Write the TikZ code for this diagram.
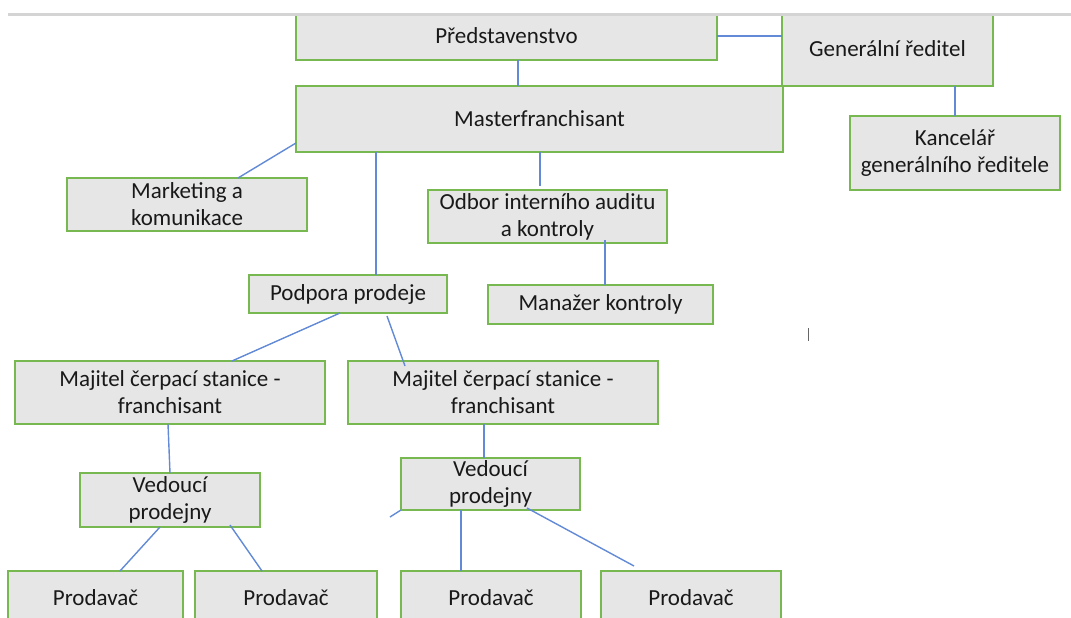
\documentclass[tikz,border=0pt]{standalone}
\usepackage{fontspec}
\setmainfont{Carlito}
\definecolor{boxfill}{RGB}{231,230,230}
\definecolor{boxline}{RGB}{120,184,80}
\definecolor{linkblue}{RGB}{98,138,214}
\definecolor{topgray}{RGB}{212,212,212}
\tikzset{
  ob/.style={rectangle, anchor=north west, inner sep=0pt, outer sep=0pt, align=center, draw=boxline, line width=1.8pt, fill=boxfill, text=black!90, font=\fontsize{23}{27}\selectfont},
  ln/.style={draw=linkblue, line width=1.4pt}
}

\begin{document}
\begin{tikzpicture}[x=1pt,y=-1pt]
	\useasboundingbox (0,0) rectangle (1071,618);
	\begin{scope}
	\clip (0,15.5) rectangle (1071,618);
	\node[ob, minimum width=421pt, minimum height=48pt] (pred) at (296,12) {Představenstvo};
	\node[ob, minimum width=211pt, minimum height=74pt] (gen) at (782,12) {Generální ředitel};
	\node[ob, minimum width=487pt, minimum height=66pt] (master) at (296,86) {Masterfranchisant};
	\node[ob, minimum width=210pt, minimum height=74pt] (kanc) at (850,116) {Kancelář\\generálního ředitele};
	\node[ob, minimum width=240pt, minimum height=53pt] (mark) at (67,178) {Marketing a\\komunikace};
	\node[ob, minimum width=239pt, minimum height=53pt] (odbor) at (428,190) {Odbor interního auditu\\a kontroly};
	\node[ob, minimum width=198pt, minimum height=38pt] (podpora) at (249,275) {Podpora prodeje};
	\node[ob, minimum width=225pt, minimum height=39pt] (manazer) at (488,285) {Manažer kontroly};
	\node[ob, minimum width=310pt, minimum height=63pt] (maj1) at (15,361) {Majitel čerpací stanice -\\franchisant};
	\node[ob, minimum width=310pt, minimum height=63pt] (maj2) at (348,361) {Majitel čerpací stanice -\\franchisant};
	\node[ob, minimum width=180pt, minimum height=54pt] (ved1) at (80,473) {Vedoucí\\prodejny};
	\node[ob, minimum width=179pt, minimum height=52pt] (ved2) at (401,458) {Vedoucí\\prodejny};
	\node[ob, minimum width=175pt, minimum height=54pt] (prod1) at (8,571) {Prodavač};
	\node[ob, minimum width=182pt, minimum height=54pt] (prod2) at (195,571) {Prodavač};
	\node[ob, minimum width=180pt, minimum height=54pt] (prod3) at (401,571) {Prodavač};
	\node[ob, minimum width=180pt, minimum height=54pt] (prod4) at (601,571) {Prodavač};
	\coordinate (stub) at (390,517);
	\coordinate (caret) at (808,328);
	%
	\draw[ln] (pred.east) -- (pred.east -| gen.west);
	\draw[ln] ([xshift=11.5pt]pred.south) -- ([xshift=11.5pt]pred.south |- master.north);
	\draw[ln] (kanc.north |- gen.south) -- (kanc.north);
	\draw[ln] ([yshift=-24pt]master.west) -- ([xshift=51pt]mark.north);
	\draw[ln] ([xshift=28pt]podpora.north |- master.south) -- ([xshift=28pt]podpora.north);
	\draw[ln] ([xshift=0.5pt]master.south) -- ([xshift=0.5pt,yshift=4pt]master.south |- odbor.north);
	\draw[ln] ([xshift=4.5pt,yshift=3pt]manazer.north |- odbor.south) -- ([xshift=4.5pt]manazer.north);
	\draw[ln] ([xshift=-8pt]podpora.south) -- ([xshift=62pt]maj1.north);
	\draw[ln] ([xshift=39pt,yshift=-3pt]podpora.south) -- ([xshift=-98pt,yshift=-5pt]maj2.north);
	\draw[ln] ([xshift=-2pt]maj1.south) -- (ved1.north);
	\draw[ln] ([xshift=-6.5pt]ved2.north |- maj2.south) -- ([xshift=-6.5pt]ved2.north);
	\draw[ln] ([xshift=-10pt]ved1.south) -- ([xshift=24.5pt]prod1.north);
	\draw[ln] ([xshift=60pt,yshift=2pt]ved1.south) -- ([xshift=-24pt]prod2.north);
	\draw[ln] ([xshift=-30pt]prod3.north |- ved2.south) -- ([xshift=-30pt]prod3.north);
	\draw[ln] ([xshift=36.5pt,yshift=2pt]ved2.south) -- ([xshift=-57pt,yshift=5pt]prod4.north);
	\draw[ln] (ved2.south west) -- (stub);
	\draw[black!60, line width=1pt] (caret) -- ++(0,13);
	\end{scope}
	\draw[topgray, line width=2.5pt] (8,14.5) -- (1071,14.5);
\end{tikzpicture}
\end{document}
